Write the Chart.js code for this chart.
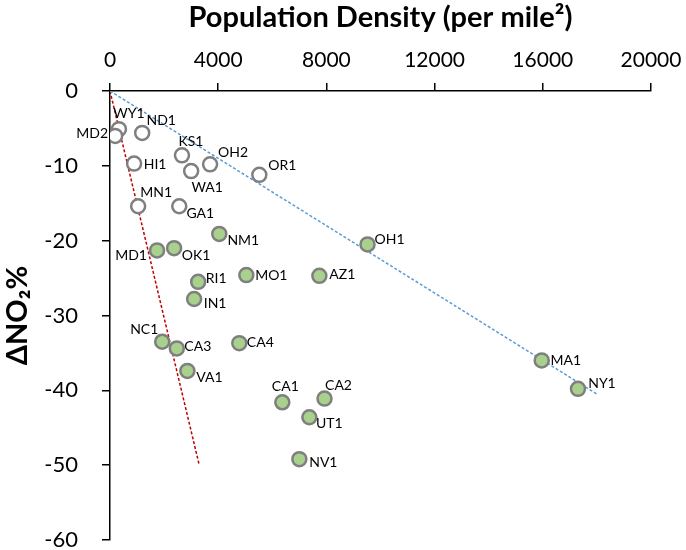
<!DOCTYPE html>
<html>
<head>
<meta charset="utf-8">
<style>
  html, body { margin: 0; padding: 0; background: #fff; }
  #wrap { width: 686px; height: 550px; }
</style>
</head>
<body>
<div id="wrap">
  <canvas id="myChart" width="686" height="550"></canvas>
</div>

<script src="https://cdn.jsdelivr.net/npm/chart.js"></script>

<script>
  // open circles (sites above the fit)
  const openSites = ['WY1', 'MD2', 'ND1', 'KS1', 'OH2', 'WA1', 'HI1', 'OR1', 'MN1', 'GA1'];
  const openX = [330, 190, 1190, 2660, 3700, 3000, 890, 5520, 1040, 2560];
  const openY = [-5.1, -6.0, -5.6, -8.6, -9.8, -10.7, -9.7, -11.2, -15.4, -15.4];

  // filled circles
  const filledSites = ['NM1', 'MD1', 'OK1', 'RI1', 'MO1', 'AZ1', 'OH1', 'MA1', 'NY1', 'IN1',
                       'NC1', 'CA3', 'CA4', 'VA1', 'CA1', 'CA2', 'UT1', 'NV1'];
  const filledX = [4040, 1740, 2370, 3260, 5040, 7740, 9520, 15960, 17300, 3110,
                   1930, 2470, 4780, 2860, 6370, 7930, 7370, 7000];
  const filledY = [-19.1, -21.3, -21.0, -25.5, -24.6, -24.7, -20.5, -36.0, -39.8, -27.8,
                   -33.5, -34.4, -33.7, -37.4, -41.6, -41.1, -43.6, -49.2];

  // dashed reference lines
  const blueLineX = [0, 18000];
  const blueLineY = [0, -40.5];
  const redLineX = [0, 3300];
  const redLineY = [0, -50];

  const xTicks = [0, 4000, 8000, 12000, 16000, 20000];
  const yTicks = [0, -10, -20, -30, -40, -50, -60];

  // where each label sits relative to its point (text centre, px)
  const labelOffset = {
    WY1: [10, -16], MD2: [-23, -2], ND1: [19, -12], KS1: [9, -14], OH2: [23, -12],
    WA1: [16, 16], HI1: [21, 1], OR1: [23, -9], MN1: [18, -14], GA1: [21, 7],
    NM1: [24, 7], MD1: [-26, 5], OK1: [22, 7], RI1: [18, -3], MO1: [25, 0],
    AZ1: [23, -1], OH1: [22, -5], MA1: [24, 0], NY1: [24, -5], IN1: [21, 4],
    NC1: [-18, -12], CA3: [21, -2], CA4: [21, -1], VA1: [22, 7], CA1: [3, -16],
    CA2: [14, -13], UT1: [20, 6], NV1: [24, 3]
  };

  const FONT = 'Lato, "Open Sans", sans-serif';
  const toPts = (xs, ys) => xs.map((x, i) => ({ x: x, y: ys[i] }));

  const pointLabels = {
    id: 'pointLabels',
    afterDatasetsDraw(chart) {
      const c = chart.ctx;
      c.save();
      c.font = '14px ' + FONT;
      c.fillStyle = '#000';
      c.textAlign = 'center';
      c.textBaseline = 'middle';
      chart.data.datasets.forEach((ds, di) => {
        if (!ds.siteNames) return;
        const meta = chart.getDatasetMeta(di);
        meta.data.forEach((pt, i) => {
          const name = ds.siteNames[i];
          const off = labelOffset[name] || [20, 0];
          c.fillText(name, pt.x + off[0], pt.y + off[1]);
        });
      });
      c.restore();
    }
  };

  const ctx = document.getElementById('myChart');

  new Chart(ctx, {
    type: 'scatter',
    data: {
      datasets: [
        {
          label: 'blue fit',
          data: toPts(blueLineX, blueLineY),
          showLine: true,
          borderColor: '#5b9bd5',
          borderWidth: 1.5,
          borderDash: [3, 2],
          pointRadius: 0,
          order: 3
        },
        {
          label: 'red fit',
          data: toPts(redLineX, redLineY),
          showLine: true,
          borderColor: '#c00000',
          borderWidth: 1.5,
          borderDash: [3, 2],
          pointRadius: 0,
          order: 3
        },
        {
          label: 'open',
          siteNames: openSites,
          data: toPts(openX, openY),
          backgroundColor: '#ffffff',
          borderColor: '#7f7f7f',
          borderWidth: 2.5,
          pointRadius: 7,
          order: 1
        },
        {
          label: 'filled',
          siteNames: filledSites,
          data: toPts(filledX, filledY),
          backgroundColor: '#a9d18e',
          borderColor: '#7f7f7f',
          borderWidth: 2.5,
          pointRadius: 7,
          order: 1
        }
      ]
    },
    options: {
      responsive: false,
      animation: false,
      layout: { padding: { left: 0, right: 35, top: 0, bottom: 10 } },
      plugins: {
        legend: { display: false },
        tooltip: { enabled: false }
      },
      scales: {
        x: {
          type: 'linear',
          position: 'top',
          min: 0,
          max: 20000,
          afterBuildTicks: (s) => { s.ticks = xTicks.map(v => ({ value: v })); },
          afterFit: (s) => { s.height = 91; s.paddingLeft = 0; s.paddingRight = 0; },
          ticks: {
            color: '#000',
            font: { family: FONT, size: 21 },
            padding: 10,
            maxRotation: 0,
            callback: (v) => String(v)
          },
          grid: {
            display: true,
            drawOnChartArea: false,
            drawTicks: true,
            tickLength: 8,
            color: '#000',
            lineWidth: 1.5
          },
          border: { display: true, color: '#000', width: 1.5 },
          title: {
            display: true,
            text: 'Population Density (per mile²)',
            color: '#000',
            font: { family: FONT, size: 29, weight: 'bold' },
            padding: { top: 0, bottom: 0 }
          }
        },
        y: {
          type: 'linear',
          min: -60,
          max: 0,
          afterBuildTicks: (s) => { s.ticks = yTicks.map(v => ({ value: v })); },
          afterFit: (s) => { s.width = 110; s.paddingTop = 0; s.paddingBottom = 0; },
          ticks: {
            color: '#000',
            font: { family: FONT, size: 22 },
            padding: 24,
            callback: (v) => String(v)
          },
          grid: {
            display: true,
            drawOnChartArea: false,
            drawTicks: true,
            tickLength: 8,
            color: '#000',
            lineWidth: 1.5
          },
          border: { display: true, color: '#000', width: 1.5 },
          title: {
            display: true,
            text: 'ΔNO₂%',
            color: '#000',
            font: { family: FONT, size: 29, weight: 'bold' },
            padding: { top: 0, bottom: 0 }
          }
        }
      }
    },
    plugins: [pointLabels]
  });
</script>
</body>
</html>
